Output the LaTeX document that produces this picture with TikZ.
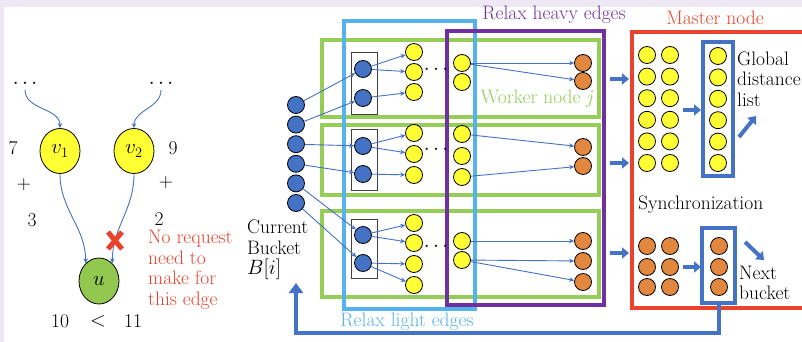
\documentclass[tikz,border=0pt]{standalone}
\usetikzlibrary{arrows.meta,shapes.geometric}
\definecolor{cblue}{RGB}{68,114,196}
\definecolor{lblue}{RGB}{86,178,236}
\definecolor{wgreen}{RGB}{150,204,88}
\definecolor{ugreen}{RGB}{146,200,80}
\definecolor{cyel}{RGB}{255,255,51}
\definecolor{corg}{RGB}{226,135,62}
\definecolor{cred}{RGB}{234,67,45}
\definecolor{cpur}{RGB}{112,48,160}
\definecolor{lav}{RGB}{237,232,244}
\begin{document}
\begin{tikzpicture}[x=1pt,y=-1pt,
  every node/.style={font=\fontsize{19.5}{20.5}\selectfont},
  dot/.style={circle,draw=black,line width=0.8pt,minimum size=17pt,inner sep=0pt},
  bd/.style={dot,fill=cblue}, yd/.style={dot,fill=cyel}, od/.style={dot,fill=corg},
  bigel/.style={ellipse,draw=black,line width=0.8pt,minimum width=40pt,minimum height=45pt,inner sep=0pt},
  tarr/.style={draw=cblue,line width=0.9pt,-{Stealth[length=5pt,width=4.5pt]}},
  farr/.style={draw=cblue,line width=4pt,-{Triangle[length=7pt,width=11pt]}},
  frame/.style={line width=4pt},
  boxr/.style={draw=black!75,line width=0.8pt,minimum width=26pt,inner sep=0pt},
  listbox/.style={draw=cblue,line width=4pt,inner sep=0pt},
  lab/.style={inner sep=0pt,align=left,anchor=west}
]
\useasboundingbox (0,0) rectangle (802,342);
\fill[white] (0,0) rectangle (802,342);
\fill[lav] (0,0) rectangle (802,7);
\fill[lav] (0,0) rectangle (4,342);

% ---------------- left example ----------------
\node[inner sep=1pt] (t1) at (25,84) {$\cdots$};
\node[inner sep=1pt] (t2) at (161,84) {$\cdots$};
\node[bigel,fill=cyel] (v1) at (60,151) {$v_1$};
\node[bigel,fill=cyel] (v2) at (134,151) {$v_2$};
\node[bigel,fill=ugreen,minimum height=46pt] (u) at (99,281) {$u$};
\draw[tarr] (t1.south) to[out=-90,in=90] (v1.north);
\draw[tarr] (t2.south) to[out=-90,in=90] (v2.north);
\draw[tarr] (v1.south) to[out=-90,in=90] (u.127);
\draw[tarr] (v2.south) to[out=-90,in=90] (u.53);
\draw[cred,line width=5pt] (108,232) -- (122,249) (122,232) -- (108,249);
\node (n7) at (13,148) {7};
\node (n9) at (173,148) {9};
\node (p1) at (24,185) {+};
\node (p2) at (166,183) {+};
\node (n3) at (32,220) {3};
\node (n2) at (159,219) {2};
\node (n10) at (60,321) {10};
\node (lt) at (98,321) {$<$};
\node (n11) at (133,321) {11};
\node[lab,text=cred] (nr) at (148,270) {No request\\need to\\make for\\this edge};

% ---------------- frames ----------------
\draw[wgreen,frame] (322,40) rectangle (599,117);
\draw[wgreen,frame] (322,125) rectangle (599,195);
\draw[wgreen,frame] (322,211) rectangle (599,297);
\draw[lblue,frame] (344,21) rectangle (475,309);
\draw[cpur,frame] (447,31) rectangle (604,305);
\draw[cred,frame] (632,32) rectangle (804,308);

\node[text=cpur] (rh) at (554,15) {Relax heavy edges};
\node[text=lblue] (rl) at (407,322) {Relax light edges};
\node[text=wgreen] (wn) at (537,99) {Worker node \textit{j}};
\node[text=cred] (mn) at (715,18) {Master node};

% ---------------- current bucket ----------------
\foreach \i/\y in {1/105,2/124.6,3/144.2,4/163.8,5/183.4,6/203}
  \node[bd] (b\i) at (296,\y) {};
\node[lab] (cb) at (247,250) {Current\\Bucket\\$B[i]$};

% ---------------- worker boxes ----------------
\node[boxr,minimum height=62pt] (box1) at (364,83) {};
\node[boxr,minimum height=61pt] (box2) at (364,159.5) {};
\node[boxr,minimum height=59pt] (box3) at (364,248.5) {};
\node[bd] (w1a) at (363,69) {};
\node[bd] (w1b) at (363,98) {};
\node[bd] (w2a) at (363,146) {};
\node[bd] (w2b) at (363,174) {};
\node[bd] (w3a) at (363,235) {};
\node[bd] (w3b) at (363,263) {};

\foreach \n/\y in {y1a/52,y1b/72,y1c/92,y2a/133,y2b/154,y2c/175,y3a/223,y3b/243,y3c/264,y3d/285}
  \node[yd] (\n) at (414,\y) {};
\node (e1) at (436,70) {$\cdots$};
\node (e2) at (436,150) {$\cdots$};
\node (e3) at (436,247) {$\cdots$};

\foreach \n/\y in {h1a/63,h1b/82,h2a/134,h2b/156,h2c/177,h3a/241,h3b/260}
  \node[yd] (\n) at (462,\y) {};
\foreach \n/\y in {o1a/63,o1b/81,o2a/147,o2b/166,o3a/241,o3b/261,o3c/282}
  \node[od] (\n) at (583,\y) {};

% light edges
\draw[tarr] (b1) -- (w1a);
\draw[tarr] (b2) -- (w1b);
\draw[tarr] (b3) -- (w2a);
\draw[tarr] (b4) -- (w2b);
\draw[tarr] (b5) -- (w3a);
\draw[tarr] (b6) -- (w3b);
\draw[tarr] (w1a) -- (y1a);
\draw[tarr] (w1a) -- (y1b);
\draw[tarr] (w1b) -- (y1c);
\draw[tarr] (w2a) -- (y2a);
\draw[tarr] (w2a) -- (y2b);
\draw[tarr] (w2b) -- (y2c);
\draw[tarr] (w3a) -- (y3a);
\draw[tarr] (w3a) -- (y3b);
\draw[tarr] (w3b) -- (y3c);
\draw[tarr] (w3b) -- (y3d);
% heavy edges
\draw[tarr] (h1a) -- (o1a);
\draw[tarr] (h1a) -- (o1b);
\draw[tarr] (h2a) -- (o2a);
\draw[tarr] (h2c) -- (o2b);
\draw[tarr] (h3a) -- (o3a);
\draw[tarr] (h3b) -- (o3b);
\draw[tarr] (h3b) -- (o3c);

% arrows to master
\coordinate (a1s) at (610,79);  \coordinate (a1e) at (629,79);
\coordinate (a2s) at (610,163); \coordinate (a2e) at (629,163);
\coordinate (a3s) at (610,253); \coordinate (a3e) at (629,253);
\draw[farr] (a1s) -- (a1e);
\draw[farr] (a2s) -- (a2e);
\draw[farr] (a3s) -- (a3e);

% ---------------- master ----------------
\foreach \r in {0,...,5}{
  \pgfmathsetmacro\yy{55+21.6*\r}
  \node[yd] (mya\r) at (647,\yy) {};
  \node[yd] (myb\r) at (670,\yy) {};
}
\node[listbox,minimum width=30pt,minimum height=134pt] (gl) at (718,109) {};
\foreach \r in {0,...,5}{
  \pgfmathsetmacro\yy{56+21.4*\r}
  \node[yd] (gy\r) at (718,\yy) {};
}
\coordinate (m1s) at (683,110); \coordinate (m1e) at (701,110);
\draw[farr] (m1s) -- (m1e);
\node[lab] (gdl) at (737,79) {Global\\distance\\list};
\coordinate (d1s) at (739,137); \coordinate (d1e) at (756,116);
\draw[farr] (d1s) -- (d1e);

\node[lab] (sync) at (638,205) {Synchronization};

\foreach \r/\y in {0/246,1/267,2/287}{
  \node[od] (moa\r) at (647,\y) {};
  \node[od] (mob\r) at (670,\y) {};
  \node[od] (no\r) at (719,\y) {};
}
\node[listbox,minimum width=33pt,minimum height=75pt] (nb) at (718.5,265.5) {};
\coordinate (m2s) at (683,267); \coordinate (m2e) at (701,267);
\draw[farr] (m2s) -- (m2e);
\node[lab] (nbl) at (739,283) {Next\\bucket};
\coordinate (d2s) at (745,242); \coordinate (d2e) at (764,260);
\draw[farr] (d2s) -- (d2e);

% feedback
\coordinate (fbc) at (296,333);
\coordinate (fbe) at (296,283);
\draw[draw=cblue,line width=4pt,-{Triangle[length=10pt,width=14pt]}] (nb.south) |- (fbc) -- (fbe);
\end{tikzpicture}
\end{document}
